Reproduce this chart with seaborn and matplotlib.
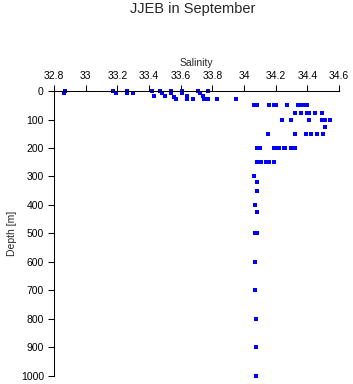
import matplotlib
matplotlib.use("Agg")
import matplotlib.pyplot as plt
import seaborn as sns
import pandas as pd

# values
depth = ([0] * 9 + [6] * 8 + [17] * 4 + [21] + [28] * 7
         + [50] * 10 + [75] * 6 + [100] * 6 + [125] + [150] * 6
         + [200] * 9 + [250] * 6
         + [300, 320, 350, 400, 425, 500, 500, 600, 700, 800, 900, 1000])
salinity = ([32.87, 33.17, 33.26, 33.42, 33.47, 33.54, 33.61, 33.71, 33.77]
            + [32.86, 33.19, 33.26, 33.30, 33.48, 33.54, 33.61, 33.72]
            + [33.43, 33.50, 33.64, 33.74]
            + [33.56]
            + [33.57, 33.64, 33.68, 33.75, 33.77, 33.83, 33.95]
            + [34.06, 34.08, 34.16, 34.19, 34.20, 34.27, 34.34, 34.36, 34.38, 34.40]
            + [34.32, 34.36, 34.40, 34.41, 34.45, 34.49]
            + [34.24, 34.30, 34.41, 34.49, 34.51, 34.54]
            + [34.51]
            + [34.15, 34.32, 34.39, 34.42, 34.46, 34.50]
            + [34.08, 34.10, 34.19, 34.20, 34.22, 34.25, 34.26, 34.30, 34.32]
            + [34.08, 34.09, 34.11, 34.14, 34.16, 34.19]
            + [34.06, 34.08, 34.08, 34.07, 34.08, 34.07, 34.08, 34.07, 34.07,
               34.075, 34.075, 34.075])
x_ticks = [32.8, 33, 33.2, 33.4, 33.6, 33.8, 34, 34.2, 34.4, 34.6]
x_ticklabels = ["32.8", "33", "33.2", "33.4", "33.6", "33.8", "34", "34.2", "34.4", "34.6"]
y_ticks = [0, 100, 200, 300, 400, 500, 600, 700, 800, 900, 1000]

df = pd.DataFrame({"Salinity": salinity, "Depth": depth})

sns.set_theme(style="white")
plt.rcParams["font.family"] = ["Liberation Sans", "DejaVu Sans"]

fig = plt.figure(figsize=(3.53, 3.84), dpi=100)
ax = fig.add_axes([54 / 353, 1 - 375.5 / 384, 285 / 353, 284.3 / 384])
sns.scatterplot(data=df, x="Salinity", y="Depth", ax=ax, color="#0000ff",
                marker="s", s=5, linewidth=0, clip_on=False)

ax.set_xlim(32.8, 34.6)
ax.set_ylim(1000, 0)
ax.set_xticks(x_ticks)
ax.set_xticklabels(x_ticklabels)
ax.set_yticks(y_ticks)
ax.xaxis.tick_top()
ax.xaxis.set_label_position("top")
ax.set_xlabel("Salinity", fontsize=7.5, labelpad=3.5)
ax.set_ylabel("Depth [m]", fontsize=7.5, labelpad=2.5)
ax.tick_params(axis="both", labelsize=7.5, length=4.3, width=0.75, color="black",
               direction="out", pad=3, colors="black")
ax.tick_params(axis="x", bottom=False, top=True)
ax.tick_params(axis="y", left=True, right=False)
for side in ["right", "bottom"]:
    ax.spines[side].set_visible(False)
for side in ["top", "left"]:
    ax.spines[side].set_color("black")
    ax.spines[side].set_linewidth(0.75)

fig.text(193 / 353, 1 - 12.7 / 384, "JJEB in September", ha="center", va="baseline", fontsize=10.5)

fig.savefig("out.png", dpi=100)
